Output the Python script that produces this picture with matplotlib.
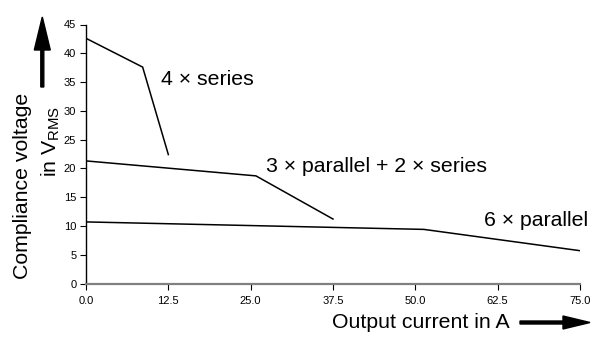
import matplotlib
matplotlib.use("Agg")
import matplotlib.pyplot as plt
from matplotlib.patches import FancyArrow

plt.rcParams['font.family'] = ['Liberation Sans', 'DejaVu Sans']
plt.rcParams['mathtext.fontset'] = 'custom'
plt.rcParams['mathtext.rm'] = 'Liberation Sans'
plt.rcParams['mathtext.it'] = 'Liberation Sans'

# Output current (A) and compliance voltage (V RMS) per wiring configuration
series4_current = [0.0, 8.6, 12.5]
series4_voltage = [42.6, 37.6, 22.4]

par3_ser2_current = [0.0, 25.8, 37.5]
par3_ser2_voltage = [21.3, 18.7, 11.2]

par6_current = [0.0, 51.3, 75.0]
par6_voltage = [10.7, 9.4, 5.7]

x_ticks = [0.0, 12.5, 25.0, 37.5, 50.0, 62.5, 75.0]
x_tick_labels = ["0.0", "12.5", "25.0", "37.5", "50.0", "62.5", "75.0"]
y_ticks = [0, 5, 10, 15, 20, 25, 30, 35, 40, 45]

W, H = 601, 337
BIG = 15.3
fig = plt.figure(figsize=(W / 100, H / 100), dpi=100)
ax = fig.add_axes([86 / W, 1 - 283.5 / H, (580 - 86) / W, (283.5 - 24.5) / H])

for xs, ys in [(series4_current, series4_voltage),
               (par3_ser2_current, par3_ser2_voltage),
               (par6_current, par6_voltage)]:
    ax.plot(xs, ys, color='black', lw=1.1, solid_joinstyle='miter')

ax.set_xlim(0, 75)
ax.set_ylim(0, 45)
ax.set_xticks(x_ticks)
ax.set_xticklabels(x_tick_labels)
ax.set_yticks(y_ticks)
ax.tick_params(axis='both', labelsize=8, direction='out', length=4, width=0.8,
               colors='black', pad=3)
ax.tick_params(axis='x', pad=5)
for side in ('top', 'right'):
    ax.spines[side].set_visible(False)
ax.spines['left'].set_linewidth(1.0)
ax.spines['bottom'].set_linewidth(1.6)
ax.spines['bottom'].set_color('#808080')

ax.text(11.4, 35.4, "4 × series", fontsize=BIG, va='center', ha='left')
ax.text(27.3, 20.3, "3 × parallel + 2 × series", fontsize=BIG, va='center', ha='left')
ax.text(60.5, 10.9, "6 × parallel", fontsize=BIG, va='center', ha='left')

# Axis titles
fig.text(332 / W, 1 - 322.5 / H, "Output current in A", fontsize=BIG,
         ha='left', va='center')
fig.text(23 / W, 1 - 186 / H, "Compliance voltage", fontsize=BIG,
         rotation=90, ha='center', va='center')
fig.text(51 / W, 1 - 141 / H, r"in V$_{\mathrm{RMS}}$", fontsize=BIG,
         rotation=90, ha='center', va='center')

# Direction arrows next to the axis titles
def px_arrow(x0, y0, x1, y1, shaft, head_w, head_l):
    fx0, fy0 = x0 / W, 1 - y0 / H
    fx1, fy1 = x1 / W, 1 - y1 / H
    dx, dy = fx1 - fx0, fy1 - fy0
    vertical = abs(y1 - y0) > abs(x1 - x0)
    scale = H if vertical else W
    cross = W if vertical else H
    arr = FancyArrow(fx0, fy0, dx, dy, width=shaft / cross,
                     head_width=head_w / cross, head_length=head_l / scale,
                     length_includes_head=True, color='black',
                     transform=fig.transFigure)
    fig.add_artist(arr)

px_arrow(42.3, 87, 42.3, 17, 3, 16, 33)
px_arrow(520, 322.5, 590, 322.5, 3, 13, 27)

fig.savefig("out.png", dpi=100)
